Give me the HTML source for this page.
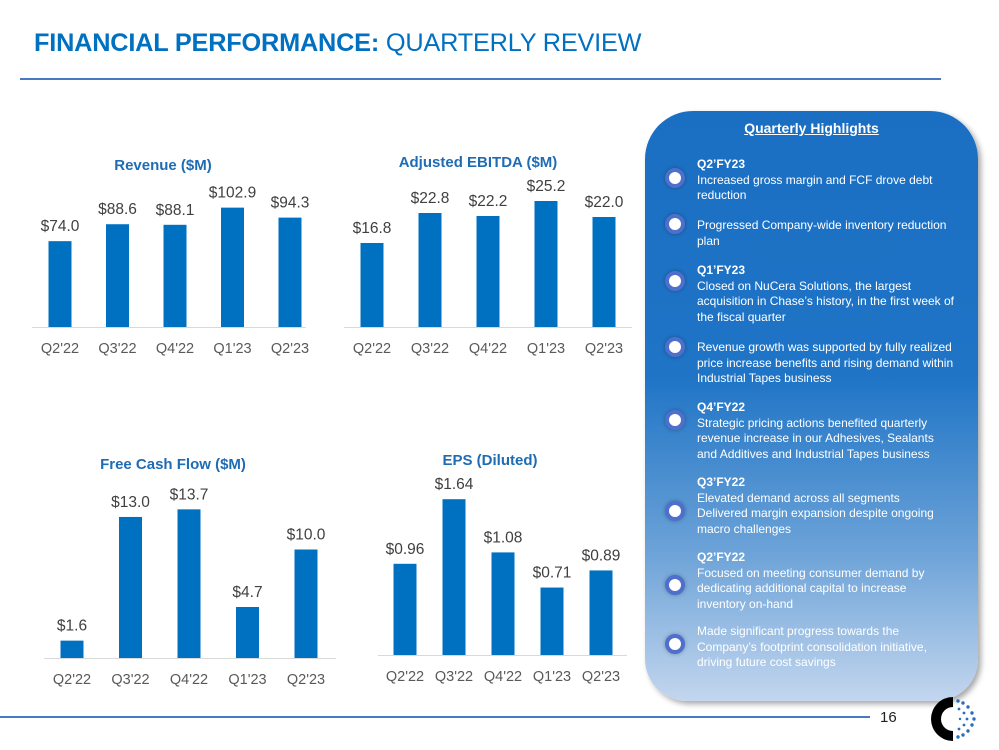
<!DOCTYPE html>
<html><head><meta charset="utf-8"><style>
body{margin:0;width:999px;height:750px;background:#fff;font-family:"Liberation Sans",Arial,sans-serif;overflow:hidden;position:relative}
.title{position:absolute;left:34px;top:29px;font-size:25.3px;color:#0070c0;letter-spacing:-0.2px}
.panel{position:absolute;left:645px;top:111px;width:333px;height:590px;border-radius:48px 48px 42px 42px;background:linear-gradient(180deg,#1b6fc3 0%,#1f74c6 45%,#6da3d8 75%,#c3d6ee 100%);box-shadow:3px 3px 6px rgba(0,0,0,.35)}
.ph{position:absolute;left:0;width:333px;top:9px;text-align:center;color:#fff;font-weight:bold;font-size:14px;text-decoration:underline}
.item{position:absolute;left:52px;width:257px;color:#fff;font-size:12px;line-height:15.5px}
.item b{display:block}
.dot{position:absolute;left:20px;width:12px;height:12px;border-radius:50%;background:#fff;border:4px solid #4f6fcc;box-shadow:0 0 4px rgba(0,0,0,.3)}
</style></head><body>
<div class="title"><b>FINANCIAL PERFORMANCE:</b> QUARTERLY REVIEW</div>
<div style="position:absolute;left:20px;top:78px;width:921px;height:2px;background:#4a78c2"></div>
<svg id="charts" width="640" height="700" style="position:absolute;left:0;top:0"></svg>
<div class="panel">
<div class="ph">Quarterly Highlights</div>
<div class="dot" style="top:57px"></div>
<div class="item" style="top:46px"><b>Q2’FY23</b>Increased gross margin and FCF drove debt reduction</div>
<div class="dot" style="top:103px"></div>
<div class="item" style="top:107px">Progressed Company-wide inventory reduction plan</div>
<div class="dot" style="top:160px"></div>
<div class="item" style="top:152px"><b>Q1’FY23</b>Closed on NuCera Solutions, the largest acquisition in Chase’s history, in the first week of the fiscal quarter</div>
<div class="dot" style="top:226px"></div>
<div class="item" style="top:229px">Revenue growth was supported by fully realized price increase benefits and rising demand within Industrial Tapes business</div>
<div class="dot" style="top:299px"></div>
<div class="item" style="top:289px"><b>Q4’FY22</b>Strategic pricing actions benefited quarterly revenue increase in our Adhesives, Sealants and Additives and Industrial Tapes business</div>
<div class="dot" style="top:390px"></div>
<div class="item" style="top:364px"><b>Q3’FY22</b>Elevated demand across all segments<br>Delivered margin expansion despite ongoing macro challenges</div>
<div class="dot" style="top:464px"></div>
<div class="item" style="top:439px"><b>Q2’FY22</b>Focused on meeting consumer demand by dedicating additional capital to increase inventory on-hand</div>
<div class="dot" style="top:523px"></div>
<div class="item" style="top:513px">Made significant progress towards the Company’s footprint consolidation initiative, driving future cost savings</div>
</div>
<div style="position:absolute;left:0;top:716px;width:870px;height:2px;background:#4a78c2"></div>
<div style="position:absolute;left:880px;top:709px;font-size:15px;color:#222">16</div>
<svg width="50" height="50" style="position:absolute;left:928px;top:694px">
<path d="M25 3 A22 22 0 1 0 25 47 L25 37 A12 12 0 1 1 25 13 Z" fill="#000"/>
<g fill="#2a6cc0"><circle cx="30" cy="7" r="1.7"/><circle cx="35" cy="9" r="1.7"/><circle cx="40" cy="13" r="1.7"/><circle cx="44" cy="19" r="1.7"/><circle cx="46" cy="25" r="1.7"/><circle cx="44" cy="31" r="1.7"/><circle cx="40" cy="37" r="1.7"/><circle cx="35" cy="41" r="1.7"/><circle cx="30" cy="43" r="1.7"/><circle cx="31" cy="15" r="1.4"/><circle cx="36" cy="19" r="1.4"/><circle cx="39" cy="25" r="1.4"/><circle cx="36" cy="31" r="1.4"/><circle cx="31" cy="35" r="1.4"/><circle cx="32" cy="25" r="1.2"/></g>
</svg>
<script>
const quarters=["Q2'22","Q3'22","Q4'22","Q1'23","Q2'23"];
const revenueValues=[74.0,88.6,88.1,102.9,94.3];
const revenueLabels=["$74.0","$88.6","$88.1","$102.9","$94.3"];
const ebitdaValues=[16.8,22.8,22.2,25.2,22.0];
const ebitdaLabels=["$16.8","$22.8","$22.2","$25.2","$22.0"];
const fcfValues=[1.6,13.0,13.7,4.7,10.0];
const fcfLabels=["$1.6","$13.0","$13.7","$4.7","$10.0"];
const epsValues=[0.96,1.64,1.08,0.71,0.89];
const epsLabels=["$0.96","$1.64","$1.08","$0.71","$0.89"];
const NS="http://www.w3.org/2000/svg";
const svg=document.getElementById('charts');
function mk(tag,attrs,txt){const e=document.createElementNS(NS,tag);for(const k in attrs)e.setAttribute(k,attrs[k]);if(txt!=null)e.textContent=txt;svg.appendChild(e);return e;}
function chart(o,vals,labels,name){
  const x=i=>o.x0+o.step*i;
  const y=v=>o.base-v*o.scale;
  const t=mk('text',{x:o.tx,y:o.ty,'text-anchor':'middle','font-size':15,'font-weight':'bold',fill:'#1f6cb4'},o.title);
  
  
  const ax=mk('line',{x1:o.ax1,x2:o.ax2,y1:o.base+0.5,y2:o.base+0.5,stroke:'#d9d9d9','stroke-width':1});
  
  
  vals.forEach((v,i)=>{
    const b=mk('rect',{x:x(i)-11.5,y:y(v),width:23,height:o.base-y(v),fill:'#0070c0'});
    
    
    const l=mk('text',{x:x(i),y:y(v)-10,'text-anchor':'middle','font-size':15.5,fill:'#404040'},labels[i]);
    
    
    const q=mk('text',{x:x(i),y:o.base+26,'text-anchor':'middle','font-size':14.5,fill:'#595959'},quarters[i]);
    
    
  });
}
chart({x0:60,step:57.5,base:327,scale:1.16,ax1:32,ax2:306,title:'Revenue ($M)',tx:163,ty:170},revenueValues,revenueLabels,'revenue');
chart({x0:372,step:58,base:327,scale:5.0,ax1:344,ax2:632,title:'Adjusted EBITDA ($M)',tx:478,ty:167},ebitdaValues,ebitdaLabels,'ebitda');
chart({x0:72,step:58.5,base:658,scale:10.85,ax1:44,ax2:336,title:'Free Cash Flow ($M)',tx:173,ty:469},fcfValues,fcfLabels,'fcf');
chart({x0:405,step:49,base:655,scale:95,ax1:378,ax2:627,title:'EPS (Diluted)',tx:490,ty:465},epsValues,epsLabels,'eps');
</script>
</body></html>
